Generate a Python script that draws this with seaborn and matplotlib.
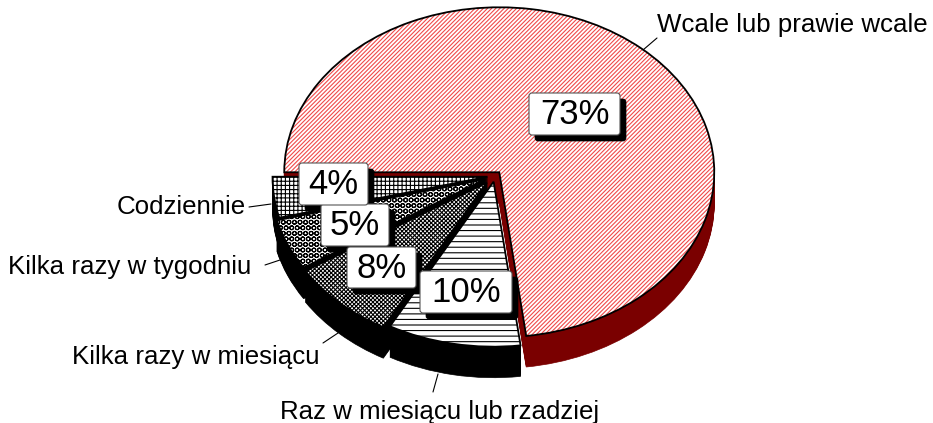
import matplotlib
matplotlib.use("Agg")
import matplotlib.pyplot as plt
from matplotlib.patches import FancyBboxPatch
from matplotlib.transforms import Affine2D
import seaborn as sns

categories = ["Wcale lub prawie wcale", "Raz w miesiącu lub rzadziej", "Kilka razy w miesiącu",
              "Kilka razy w tygodniu", "Codziennie"]
shares = [73, 10, 8, 5, 4]
explode = [0.03, 0.035, 0.055, 0.05, 0.035]
hatches = ["////////", "---", "xxxxxxxx", "OOO", "++++"]
hatch_colors = ["#f04a4a", "black", "black", "black", "black"]
wall_colors = ["#7a0000", "black", "black", "black", "black"]

# pixel layout of the reference
W, H = 933, 423
CX, CY, RX, RY = 495, 176, 215, 165
DEPTH = 31

sns.set_theme(style="white")
plt.rcParams["font.family"] = ["Liberation Sans", "DejaVu Sans"]
plt.rcParams["hatch.linewidth"] = 0.8

fig = plt.figure(figsize=(W / 100, H / 100), dpi=100)
ax = fig.add_axes([0, 0, 1, 1])
px = Affine2D().scale(1 / W, -1 / H).translate(0, 1) + fig.transFigure


def draw_pie(dy=0.0):
    wedges, _ = ax.pie(shares, explode=explode, startangle=180, counterclock=False,
                       center=(0, -dy), radius=1)
    return wedges


# side walls, stacked from the bottom up
for d in range(DEPTH, 0, -1):
    for i, w in enumerate(draw_pie(d / RY)):
        w.set_facecolor(wall_colors[i])
        w.set_edgecolor(wall_colors[i])
        w.set_linewidth(0.5)
        w.set_zorder(1 if i == 0 else 3)

# top faces: hatch first, outline above it
for i, w in enumerate(draw_pie()):
    w.set_facecolor("white")
    w.set_edgecolor(hatch_colors[i])
    w.set_hatch(hatches[i])
    w.set_linewidth(0)
    w.set_zorder(2 if i == 0 else 4)
for i, w in enumerate(draw_pie()):
    w.set_facecolor("none")
    w.set_edgecolor("black")
    w.set_linewidth(1.3)
    w.set_zorder(2.5 if i == 0 else 4.5)

ax.set_aspect("auto")
ax.set_xlim(-CX / RX, (W - CX) / RX)
ax.set_ylim(-(H - CY) / RY, CY / RY)
ax.axis("off")

# leader lines and category labels, centred on the reference text
label_pos = [(792, 25), (440, 412), (196, 357), (130, 267), (181, 207)]
leaders = [((643, 50), (657, 38)), ((433, 392), (438, 374)), ((323, 343), (338, 333)),
           ((265, 265), (280, 260)), ((249, 207), (271, 204))]
for name, (x, y), (p0, p1) in zip(categories, label_pos, leaders):
    ax.plot([p0[0], p1[0]], [p0[1], p1[1]], color="black", lw=0.8, transform=px, clip_on=False, zorder=6)
    ax.text(x, y, name, transform=px, fontsize=18.6, ha="center", va="center", color="black", zorder=6)

# percent boxes with drop shadow
boxes = [(529, 93, 91, 42), (420, 271, 92, 42), (347, 247, 69, 41), (321, 204, 68, 42), (299, 163, 69, 42)]
for share, (x, y, bw, bh) in zip(shares, boxes):
    ax.add_patch(FancyBboxPatch((x + 6, y + 6), bw, bh, boxstyle="round,pad=0,rounding_size=3",
                                fc="black", ec="black", lw=0.5, transform=px, zorder=7, clip_on=False))
    ax.add_patch(FancyBboxPatch((x, y), bw, bh, boxstyle="round,pad=0,rounding_size=3",
                                fc="white", ec="#555555", lw=0.8, transform=px, zorder=8, clip_on=False))
    ax.text(x + bw / 2, y + bh / 2 + 0.5, f"{share}%", transform=px, fontsize=25, ha="center", va="center",
            color="black", zorder=9)

fig.savefig("out.png", dpi=100, facecolor="white")
